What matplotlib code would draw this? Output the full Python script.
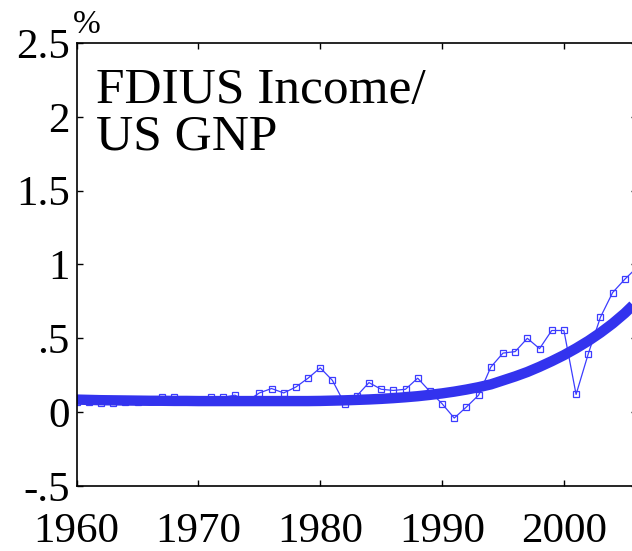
import numpy as np
import matplotlib
matplotlib.use("Agg")
import matplotlib.pyplot as plt

plt.rcParams['font.family'] = ['Liberation Serif', 'DejaVu Serif']

# yearly ratio
years = list(range(1960, 2007))
ratio = [0.072, 0.07, 0.06, 0.06, 0.07, 0.07, 0.075, 0.10, 0.10, 0.08,
         0.08, 0.10, 0.10, 0.115, 0.075, 0.13, 0.16, 0.13, 0.17, 0.23,
         0.30, 0.215, 0.057, 0.11, 0.20, 0.155, 0.147, 0.155, 0.23, 0.14,
         0.057, -0.04, 0.035, 0.115, 0.305, 0.40, 0.41, 0.50, 0.43, 0.553,
         0.553, 0.12, 0.395, 0.643, 0.81, 0.90, 0.98]

# smooth trend (thick line)
trend = [0.085, 0.083, 0.081, 0.080, 0.079, 0.078, 0.077, 0.077, 0.076, 0.076,
         0.075, 0.075, 0.075, 0.075, 0.075, 0.075, 0.075, 0.075, 0.075, 0.075,
         0.076, 0.078, 0.080, 0.083, 0.086, 0.090, 0.095, 0.101, 0.108, 0.117,
         0.127, 0.139, 0.153, 0.169, 0.188, 0.215, 0.242, 0.272, 0.307, 0.345,
         0.386, 0.432, 0.482, 0.538, 0.60, 0.67, 0.75]

xticks = [1960, 1970, 1980, 1990, 2000]
yticks = [-0.5, 0, 0.5, 1, 1.5, 2, 2.5]
ylabels = ['-.5', '0', '.5', '1', '1.5', '2', '2.5']

fig = plt.figure(figsize=(6.32, 5.51), dpi=100)
ax = fig.add_axes([0.1212, 0.118, 0.8867, 0.804])

ax.plot(years, ratio, color='#3c3cff', lw=0.9, marker='s', ms=4.5,
        mfc='none', mec='#3c3cff', mew=0.9)
ax.plot(years, trend, color='#3333ee', lw=7.5, solid_capstyle='butt')

ax.set_xlim(1960, 2006)
ax.set_ylim(-0.5, 2.5)
ax.set_xticks(xticks)
ax.set_xticklabels([str(t) for t in xticks])
ax.set_yticks(yticks)
ax.set_yticklabels(ylabels)
ax.tick_params(direction='in', length=4, width=1, top=True, right=True,
               labelsize=31, colors='black')
ax.tick_params(axis='x', pad=19)
ax.tick_params(axis='y', pad=5)
for s in ax.spines.values():
    s.set_linewidth(1.2)

ax.text(0.034, 0.945, 'FDIUS Income/\nUS GNP', transform=ax.transAxes,
        fontsize=37, va='top', ha='left', linespacing=1.0)
fig.text(0.1155, 0.94, '%', fontsize=24, ha='left', va='baseline')

fig.savefig('out.png', dpi=100)
